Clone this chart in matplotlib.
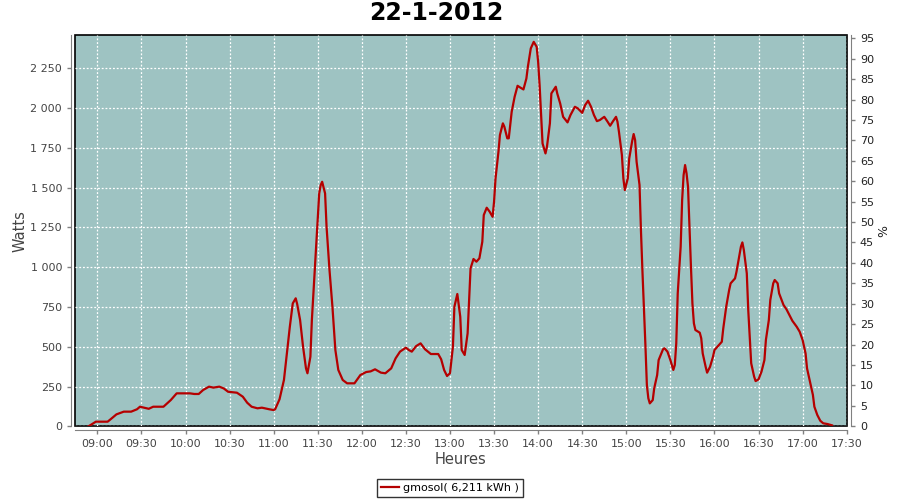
import matplotlib
matplotlib.use('Agg')
import matplotlib.pyplot as plt
from matplotlib.ticker import FuncFormatter, MultipleLocator

# production du 22-1-2012 (heure, watts)
heures = ['08:54', '08:59', '09:07', '09:09', '09:13', '09:18', '09:23', '09:27', '09:29', '09:35',
          '09:38', '09:45', '09:50', '09:54', '10:03', '10:06', '10:09', '10:12', '10:16', '10:19',
          '10:23', '10:26', '10:29', '10:35', '10:39', '10:42', '10:45', '10:49', '10:52', '10:57',
          '11:00', '11:01', '11:04', '11:07', '11:09', '11:11', '11:13', '11:15', '11:16', '11:18',
          '11:20', '11:22', '11:23', '11:25', '11:26', '11:28', '11:30', '11:31', '11:32', '11:33',
          '11:35', '11:36', '11:38', '11:40', '11:42', '11:44', '11:47', '11:50', '11:55', '11:59',
          '12:03', '12:06', '12:09', '12:13', '12:16', '12:20', '12:23', '12:26', '12:30', '12:32',
          '12:34', '12:37', '12:40', '12:43', '12:47', '12:52', '12:54', '12:56', '12:58', '13:00',
          '13:02', '13:03', '13:05', '13:07', '13:08', '13:10', '13:12', '13:13', '13:14', '13:16',
          '13:18', '13:20', '13:22', '13:23', '13:25', '13:27', '13:29', '13:30', '13:31', '13:33',
          '13:34', '13:36', '13:37', '13:39', '13:40', '13:42', '13:44', '13:46', '13:48', '13:50',
          '13:52', '13:53', '13:55', '13:57', '13:59', '14:00', '14:01', '14:02', '14:03', '14:05',
          '14:06', '14:08', '14:09', '14:12', '14:13', '14:15', '14:17', '14:20', '14:22', '14:25',
          '14:27', '14:30', '14:32', '14:34', '14:36', '14:38', '14:40', '14:42', '14:45', '14:47',
          '14:49', '14:51', '14:53', '14:54', '14:55', '14:57', '14:58', '14:59', '15:01', '15:02',
          '15:04', '15:05', '15:06', '15:07', '15:09', '15:10', '15:11', '15:12', '15:13', '15:14',
          '15:15', '15:16', '15:18', '15:19', '15:21', '15:22', '15:25', '15:26', '15:28', '15:30',
          '15:32', '15:33', '15:34', '15:35', '15:37', '15:38', '15:39', '15:40', '15:41', '15:42',
          '15:43', '15:44', '15:45', '15:46', '15:47', '15:50', '15:51', '15:52', '15:54', '15:55',
          '15:57', '15:59', '16:00', '16:02', '16:05', '16:06', '16:08', '16:10', '16:11', '16:14',
          '16:15', '16:17', '16:18', '16:19', '16:20', '16:22', '16:23', '16:24', '16:25', '16:27',
          '16:28', '16:30', '16:32', '16:34', '16:35', '16:37', '16:38', '16:40', '16:41', '16:43',
          '16:44', '16:47', '16:49', '16:51', '16:53', '16:56', '16:58', '17:00', '17:02', '17:03',
          '17:05', '17:07', '17:08', '17:10', '17:12', '17:14', '17:17', '17:20']
watts = [0, 29, 29, 44, 75, 92, 92, 107, 123, 110,
         123, 123, 165, 207, 207, 203, 203, 228, 249, 243,
         249, 238, 217, 211, 186, 148, 123, 113, 117, 107,
         102, 107, 170, 291, 458, 625, 772, 804, 768, 667,
         500, 364, 333, 437, 667, 982, 1296, 1463, 1515, 1536,
         1463, 1254, 982, 751, 479, 354, 291, 270, 270, 322,
         341, 345, 358, 337, 333, 364, 427, 469, 494, 479,
         469, 504, 521, 484, 454, 454, 421, 354, 316, 333,
         500, 751, 831, 688, 479, 448, 584, 783, 992, 1051,
         1034, 1055, 1159, 1327, 1373, 1348, 1316, 1411, 1557, 1725,
         1830, 1903, 1882, 1809, 1809, 1976, 2070, 2139, 2127, 2116,
         2185, 2258, 2374, 2415, 2384, 2290, 2143, 1955, 1777, 1714,
         1756, 1903, 2091, 2133, 2091, 2028, 1944, 1909, 1955, 2007,
         1997, 1969, 2018, 2045, 2007, 1955, 1917, 1924, 1944, 1917,
         1888, 1917, 1944, 1913, 1850, 1704, 1557, 1484, 1557, 1683,
         1792, 1836, 1798, 1662, 1516, 1222, 971, 741, 511, 259,
         176, 144, 165, 239, 322, 416, 484, 490, 469, 416,
         354, 385, 521, 835, 1128, 1421, 1578, 1641, 1589, 1505,
         1254, 1002, 772, 647, 605, 588, 553, 458, 374, 337,
         374, 437, 479, 500, 531, 615, 751, 856, 898, 929,
         971, 1076, 1128, 1155, 1107, 961, 730, 563, 396, 312,
         284, 295, 343, 416, 542, 667, 793, 898, 919, 898,
         835, 762, 735, 699, 663, 625, 594, 542, 458, 364,
         280, 197, 123, 71, 35, 19, 14, 6]
titre = '22-1-2012'
legende = 'gmosol( 6,211 kWh )'

def en_minutes(h):
    hh, mm = h.split(':')
    return int(hh) * 60 + int(mm)

def fmt_heure(v, pos):
    v = int(round(v))
    return f'{v // 60:02d}:{v % 60:02d}'

def fmt_watts(v, pos):
    return f'{int(v):,}'.replace(',', ' ')

x = [en_minutes(h) for h in heures]

fig = plt.figure(figsize=(9, 5), dpi=100)
ax = fig.add_axes([75.3 / 900, 73.7 / 500, 771.4 / 900, 391.3 / 500])
ax.set_facecolor('#9ec3c2')
ax.patch.set_edgecolor('black')
ax.patch.set_linewidth(1.2)

line, = ax.plot(x, watts, color='#b50000', lw=1.6, label=legende, zorder=3)

ax.set_xlim(en_minutes('08:45'), en_minutes('17:30'))
ax.set_ylim(0, 2458)
ax.xaxis.set_major_locator(MultipleLocator(30))
ax.xaxis.set_major_formatter(FuncFormatter(fmt_heure))
ax.yaxis.set_major_locator(MultipleLocator(250))
ax.yaxis.set_major_formatter(FuncFormatter(fmt_watts))
ax.grid(True, color='white', linestyle=(0, (1.5, 1.5)), linewidth=0.9)
ax.set_axisbelow(True)

ax2 = ax.twinx()
ax2.set_ylim(0, 95.8)
ax2.yaxis.set_major_locator(MultipleLocator(5))

grey = '#808080'
for a in (ax, ax2):
    for s in a.spines.values():
        s.set_visible(False)
    a.tick_params(colors=grey, labelcolor='#444444', labelsize=8, length=3, width=1)
for side, a in (('left', ax), ('bottom', ax), ('right', ax2)):
    sp = a.spines[side]
    sp.set_visible(True)
    sp.set_color(grey)
    sp.set_position(('outward', 3))
ax2.tick_params(labelcolor='#222222')

fig.text(436.5 / 900, 1 - 13 / 500, titre, fontsize=17, fontweight='bold',
         ha='center', va='center')
ax.set_xlabel('Heures', fontsize=10.5, color='#444444', labelpad=2)
ax.set_ylabel('Watts', fontsize=10.5, color='#444444', labelpad=2)
ax2.set_ylabel('%', fontsize=9, color='#222222', labelpad=2)

fig.legend(handles=[line], loc='center', bbox_to_anchor=(0.5, 0.024), fontsize=8,
           frameon=True, fancybox=False, edgecolor='black', handlelength=1.6,
           borderpad=0.35, handletextpad=0.4)

fig.savefig('out.png', dpi=100)
